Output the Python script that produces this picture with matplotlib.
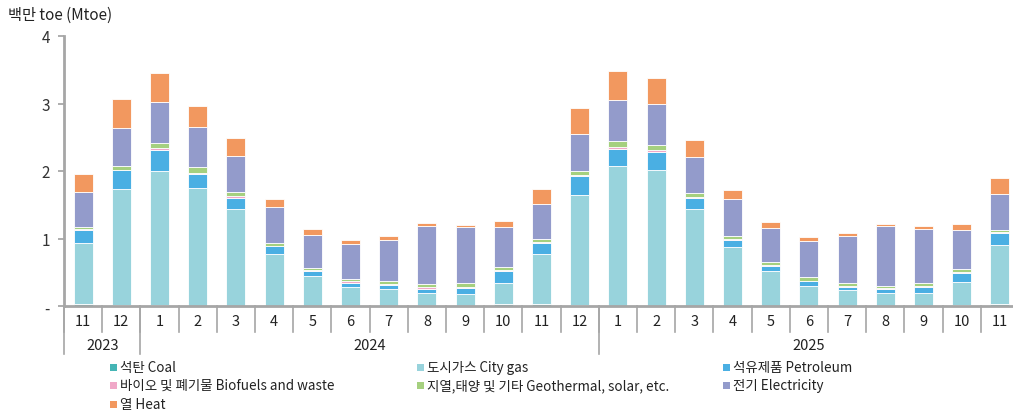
import matplotlib.pyplot as plt
from matplotlib.patches import Rectangle
import numpy as np

plt.rcParams['font.family'] = ['Noto Sans CJK KR', 'DejaVu Sans']

months = ['11', '12', '1', '2', '3', '4', '5', '6', '7', '8', '9', '10', '11', '12',
          '1', '2', '3', '4', '5', '6', '7', '8', '9', '10', '11']
years = ['2023', '2024', '2025']
year_first = [0, 2, 14]
year_last = [1, 13, 24]

coal = [0.03, 0.02, 0.015, 0.005, 0.005, 0.003, 0.003, 0.003, 0.003, 0.003, 0.003, 0.025, 0.025,
        0.02, 0.005, 0.005, 0.005, 0.003, 0.003, 0.003, 0.003, 0.003, 0.003, 0.02, 0.025]
gas = [0.90, 1.71, 1.985, 1.745, 1.43, 0.77, 0.44, 0.285, 0.25, 0.19, 0.18, 0.32, 0.745,
       1.625, 2.065, 2.01, 1.425, 0.87, 0.515, 0.295, 0.235, 0.19, 0.185, 0.335, 0.88]
petroleum = [0.20, 0.28, 0.31, 0.20, 0.17, 0.11, 0.075, 0.06, 0.06, 0.065, 0.09, 0.175, 0.17,
             0.28, 0.26, 0.27, 0.165, 0.11, 0.08, 0.065, 0.05, 0.055, 0.10, 0.14, 0.17]
bio = [0.01, 0.01, 0.03, 0.02, 0.025, 0.01, 0.015, 0.015, 0.01, 0.02, 0.015, 0.01, 0.015,
       0.015, 0.025, 0.02, 0.015, 0.01, 0.01, 0.01, 0.015, 0.015, 0.01, 0.015, 0.015]
geo = [0.035, 0.06, 0.075, 0.085, 0.06, 0.045, 0.03, 0.04, 0.04, 0.045, 0.05, 0.045, 0.04,
       0.055, 0.09, 0.08, 0.07, 0.045, 0.04, 0.05, 0.045, 0.04, 0.045, 0.045, 0.04]
elec = [0.52, 0.55, 0.60, 0.59, 0.53, 0.53, 0.49, 0.52, 0.62, 0.865, 0.825, 0.60, 0.51,
        0.56, 0.60, 0.615, 0.53, 0.54, 0.505, 0.535, 0.695, 0.88, 0.805, 0.57, 0.53]
heat = [0.26, 0.43, 0.43, 0.32, 0.27, 0.11, 0.085, 0.055, 0.05, 0.04, 0.04, 0.085, 0.23,
        0.385, 0.435, 0.385, 0.25, 0.145, 0.09, 0.06, 0.035, 0.03, 0.04, 0.095, 0.23]

series = [coal, gas, petroleum, bio, geo, elec, heat]
labels = ['석탄 Coal', '도시가스 City gas', '석유제품 Petroleum',
          '바이오 및 폐기물 Biofuels and waste', '지열,태양 및 기타 Geothermal, solar, etc.',
          '전기 Electricity', '열 Heat']
colors = ['#45b5b5', '#98d3dc', '#4aafe3', '#f0a8c8', '#a5d07f', '#939bcb', '#f2985f']

W, H = 1013, 414
fig = plt.figure(figsize=(W / 100, H / 100), dpi=100)
ax = fig.add_axes([64 / W, (H - 307) / H, 955 / W, 270 / H])

x = np.arange(len(months))
bottom = np.zeros(len(months))
for vals, col in zip(series, colors):
    ax.bar(x, vals, width=0.5, bottom=bottom, color=col, edgecolor='white', linewidth=0.6)
    bottom += np.array(vals)

ax.set_xlim(-0.5, len(months) - 0.5)
ax.set_ylim(0, 4)
ax.set_yticks([0, 1, 2, 3, 4])
ax.set_yticklabels(['-', '1', '2', '3', '4'])
ax.tick_params(axis='y', length=4, width=1.2, color='#a0a0a0', pad=6, labelsize=11,
               labelcolor='#333333')
ax.set_xticks([])
for s in ['top', 'right']:
    ax.spines[s].set_visible(False)
for s in ['left', 'bottom']:
    ax.spines[s].set_color('#a6a6a6')
    ax.spines[s].set_linewidth(2)

# two-level category axis
tr = ax.get_xaxis_transform()
for i, m in enumerate(months):
    ax.text(i, -0.056, m, transform=tr, ha='center', va='center', fontsize=10.5,
            color='#222222')
for k in range(len(months) + 1):
    ax.plot([k - 0.5, k - 0.5], [0, -0.096], transform=tr, color='#a6a6a6', lw=1.2,
            clip_on=False)
for yr, a, b in zip(years, year_first, year_last):
    ax.text((a + b) / 2, -0.144, yr, transform=tr, ha='center', va='center', fontsize=10.5,
            color='#222222')
    ax.plot([a - 0.5, a - 0.5], [0, -0.178], transform=tr, color='#a6a6a6', lw=1.2,
            clip_on=False)

fig.text(8 / W, 1 - 15 / H, '백만 toe (Mtoe)', ha='left', va='center', fontsize=11,
         color='#222222')

# legend, row by row in three columns
col_x = [110, 417, 723]
row_y = [368, 386, 405]
for i, (lab, col) in enumerate(zip(labels, colors)):
    cx = col_x[i % 3]
    cy = row_y[i // 3]
    fig.add_artist(Rectangle((cx / W, 1 - (cy + 3.5) / H), 7 / W, 7 / H,
                             transform=fig.transFigure, color=col, lw=0))
    fig.text((cx + 10) / W, 1 - cy / H, lab, ha='left', va='center', fontsize=9.7,
             color='#222222')

fig.savefig('out.png', dpi=100)
